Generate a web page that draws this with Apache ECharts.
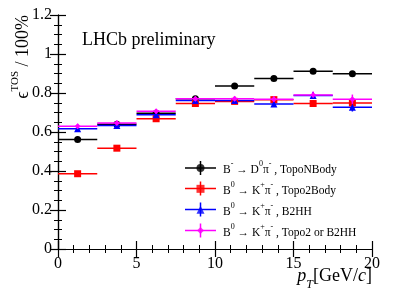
<!DOCTYPE html>
<html><head><meta charset="utf-8">
<script src="https://cdn.jsdelivr.net/npm/echarts@6/dist/echarts.min.js"></script>
<style>html,body{margin:0;padding:0;background:#fff}#c{width:414px;height:297px}</style>
</head><body><div id="c"></div>
<script>
// ---- data ----
const binEdges = [0, 2.5, 5, 7.5, 10, 12.5, 15, 17.5, 20];
const seriesNames = [
  'B⁻ → D⁰π⁻ , TopoNBody',
  'B⁰ → K⁺π⁻ , Topo2Body',
  'B⁰ → K⁺π⁻ , B2HH',
  'B⁰ → K⁺π⁻ , Topo2 or B2HH'
];
const legendRich = [
  '{n|B}{s|-}{n| → D}{s|0}{n|π}{s|-}{n| , TopoNBody}',
  '{n|B}{s|0}{n| → K}{s|+}{n|π}{s|-}{n| , Topo2Body}',
  '{n|B}{s|0}{n| → K}{s|+}{n|π}{s|-}{n| , B2HH}',
  '{n|B}{s|0}{n| → K}{s|+}{n|π}{s|-}{n| , Topo2 or B2HH}'
];
const topoNBody   = [0.561, 0.640, 0.696, 0.771, 0.836, 0.874, 0.912, 0.899];
const topoNBodyEr = [0.008, 0.006, 0.006, 0.006, 0.006, 0.007, 0.008, 0.008];
const topo2Body   = [0.386, 0.517, 0.668, 0.746, 0.757, 0.766, 0.746, 0.749];
const topo2BodyEr = [0.008, 0.008, 0.008, 0.008, 0.010, 0.012, 0.015, 0.018];
const b2hh        = [0.617, 0.633, 0.689, 0.762, 0.762, 0.744, 0.787, 0.727];
const b2hhEr      = [0.012, 0.010, 0.010, 0.010, 0.012, 0.015, 0.018, 0.022];
const topo2OrB2hh = [0.630, 0.646, 0.706, 0.771, 0.771, 0.768, 0.790, 0.768];
const topo2OrB2hhEr = [0.012, 0.010, 0.010, 0.010, 0.012, 0.015, 0.018, 0.024];
const yTicks = [0, 0.2, 0.4, 0.6, 0.8, 1, 1.2];
const xTicks = [0, 5, 10, 15, 20];

const colors = ['#000000', '#ff0000', '#0000ff', '#ff00ff'];
const symbols = ['circle', 'rect', 'triangle', 'diamond'];
const symSizes = [7, 7, 7, 6];
const allVals = [topoNBody, topo2Body, b2hh, topo2OrB2hh];
const allErrs = [topoNBodyEr, topo2BodyEr, b2hhEr, topo2OrB2hhEr];

const FONT = 'Liberation Serif';

function buildData(vals, errs) {
  return vals.map((v, i) => {
    const lo = binEdges[i], hi = binEdges[i + 1];
    return [(lo + hi) / 2, v, lo, hi, v - errs[i], v + errs[i]];
  });
}

const series = [];
allVals.forEach((vals, k) => {
  const data = buildData(vals, allErrs[k]);
  const col = colors[k];
  series.push({
    name: seriesNames[k] + ' err',
    type: 'custom',
    data: data,
    z: 2 + k,
    renderItem: function (params, api) {
      const y = api.value(1);
      const pL = api.coord([api.value(2), y]);
      const pR = api.coord([api.value(3), y]);
      const pB = api.coord([api.value(0), api.value(4)]);
      const pT = api.coord([api.value(0), api.value(5)]);
      return {
        type: 'group',
        children: [
          { type: 'line', shape: { x1: pL[0], y1: pL[1], x2: pR[0], y2: pR[1] }, style: { stroke: col, lineWidth: 1.5 } },
          { type: 'line', shape: { x1: pB[0], y1: pB[1], x2: pT[0], y2: pT[1] }, style: { stroke: col, lineWidth: 1.5 } }
        ]
      };
    }
  });
  series.push({
    name: seriesNames[k],
    type: 'scatter',
    data: data.map(d => [d[0], d[1]]),
    symbol: symbols[k],
    symbolSize: symSizes[k],
    itemStyle: { color: col, opacity: 1 },
    z: 3 + k
  });
});

const axisCommonX = {
  type: 'value', min: 0, max: 20, interval: 5,
  axisLine: { lineStyle: { color: '#000', width: 1.2 } },
  axisTick: { inside: true, length: 8, lineStyle: { color: '#000', width: 1.2 } },
  minorTick: { show: true, splitNumber: 5, length: 4, lineStyle: { color: '#000', width: 1 } },
  splitLine: { show: false }
};
const axisCommonY = {
  type: 'value', min: 0, max: 1.2, interval: 0.2,
  axisLine: { lineStyle: { color: '#000', width: 1.2 } },
  axisTick: { inside: true, length: 8, lineStyle: { color: '#000', width: 1.2 } },
  minorTick: { show: true, splitNumber: 4, length: 4, lineStyle: { color: '#000', width: 1 } },
  splitLine: { show: false }
};

// legend graphics
const legendX0 = 185, legendX1 = 216, legendTextX = 223;
const legendY = [168, 188.5, 209.5, 230.5];
const rowH = (legendY[3] - legendY[0]) / 3;
const graphics = [
  { type: 'text', left: 82, top: 31, style: { text: 'LHCb preliminary', font: '18px "' + FONT + '"', fill: '#000' } },
  {
    type: 'text', x: 21, y: 15, rotation: Math.PI / 2,
    style: {
      text: '{a|ϵ}{s|TOS}{a| / 100%}', align: 'right', verticalAlign: 'middle',
      rich: {
        a: { fontFamily: FONT, fontSize: 18, lineHeight: 22, verticalAlign: 'bottom', fill: '#000' },
        s: { fontFamily: FONT, fontSize: 11, lineHeight: 22, verticalAlign: 'top', fill: '#000' }
      }
    }
  },
  {
    type: 'text', x: 372, y: 279,
    style: {
      text: '{i|p}{b|T}{n|[GeV/}{i|c}{n|]}', align: 'right', verticalAlign: 'middle',
      rich: {
        i: { fontFamily: FONT, fontStyle: 'italic', fontSize: 18, lineHeight: 24, verticalAlign: 'top', fill: '#000' },
        n: { fontFamily: FONT, fontSize: 18, lineHeight: 24, verticalAlign: 'top', fill: '#000' },
        b: { fontFamily: FONT, fontStyle: 'italic', fontSize: 12, lineHeight: 24, verticalAlign: 'bottom', fill: '#000' }
      }
    }
  }
];
legendRich.forEach((txt, k) => {
  const y = legendY[k], xm = (legendX0 + legendX1) / 2;
  graphics.push({ type: 'line', shape: { x1: legendX0, y1: y, x2: legendX1, y2: y }, style: { stroke: colors[k], lineWidth: 1.5 } });
  graphics.push({ type: 'line', shape: { x1: xm, y1: y - 7, x2: xm, y2: y + 7 }, style: { stroke: colors[k], lineWidth: 1.5 } });
  graphics.push({
    type: 'text', x: legendTextX, y: y,
    style: {
      text: txt, verticalAlign: 'middle',
      rich: {
        n: { fontFamily: FONT, fontSize: 11.5, lineHeight: 16, verticalAlign: 'bottom', fill: '#000' },
        s: { fontFamily: FONT, fontSize: 8, lineHeight: 16, verticalAlign: 'top', fill: '#000' }
      }
    }
  });
});

const chart = echarts.init(document.getElementById('c'), null, { renderer: 'canvas' });
const legendMarkers = allVals.map((v, k) => ({
  type: 'scatter', name: 'legend' + k, symbol: symbols[k], symbolSize: symSizes[k] + 1,
  xAxisIndex: 2, yAxisIndex: 2, data: [[0.5, k + 0.5]], itemStyle: { color: colors[k] }, z: 10, silent: true
}));

chart.setOption({
  animation: false,
  backgroundColor: '#fff',
  grid: [
    { left: 58, right: 42, top: 15, bottom: 48, containLabel: false },
    { left: legendX0, width: legendX1 - legendX0, top: legendY[0] - rowH / 2, height: rowH * 4 }
  ],
  xAxis: [
    Object.assign({}, axisCommonX, { position: 'bottom', gridIndex: 0,
      axisLabel: { color: '#000', fontFamily: FONT, fontSize: 16, margin: 7,
        formatter: v => xTicks.includes(v) ? String(v) : '' } }),
    Object.assign({}, axisCommonX, { position: 'top', gridIndex: 0, axisLabel: { show: false } }),
    { type: 'value', gridIndex: 1, min: 0, max: 1, show: false }
  ],
  yAxis: [
    Object.assign({}, axisCommonY, { position: 'left', gridIndex: 0,
      axisLabel: { color: '#000', fontFamily: FONT, fontSize: 16, margin: 6,
        formatter: v => { const t = yTicks.find(q => Math.abs(q - v) < 1e-9); return t === undefined ? '' : String(t); } } }),
    Object.assign({}, axisCommonY, { position: 'right', gridIndex: 0, axisLabel: { show: false } }),
    { type: 'value', gridIndex: 1, min: 0, max: 4, inverse: true, show: false }
  ],
  series: series.concat(legendMarkers),
  graphic: graphics
});
</script></body></html>
